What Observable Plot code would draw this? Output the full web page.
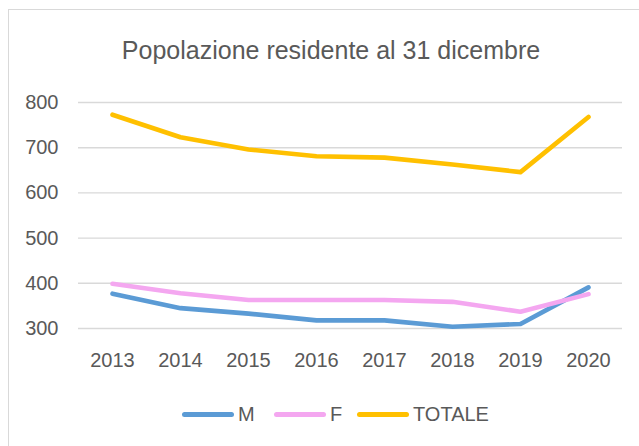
<!DOCTYPE html>
<html>
<head>
<meta charset="utf-8">
<script src="https://cdn.jsdelivr.net/npm/d3@7"></script>
<script src="https://cdn.jsdelivr.net/npm/@observablehq/plot@0.6"></script>
<style>
  html, body { margin: 0; padding: 0; background: #fff; }
  #wrap { position: relative; width: 639px; height: 446px; overflow: hidden; background: #fff;
          font-family: 'Liberation Sans Narrow', 'Liberation Sans', sans-serif; color: #595959; }
  #frame { position: absolute; left: 8px; top: 9px; width: 700px; height: 500px; border: 1.5px solid #D9D9D9; box-sizing: border-box; }
  #chart { position: absolute; left: 0; top: 0; }
  #title { position: absolute; left: 0; width: 662px; top: 35px; text-align: center; font-size: 25px; line-height: 30px; white-space: nowrap; }
  #legend { position: absolute; top: 401px; left: 0; width: 639px; height: 26px; font-size: 20px; line-height: 26px; white-space: nowrap; }
  .sw { display: inline-block; width: 52px; height: 5px; border-radius: 3px; margin-right: 4px; }
  .it { position: absolute; top: 0; display: flex; align-items: center; height: 26px; }
</style>
</head>
<body>
<div id="wrap">
  <div id="frame"></div>
  <div id="chart"></div>
  <div id="title">Popolazione residente al 31 dicembre</div>
  <div id="legend"></div>
</div>
<script>
const years = ["2013", "2014", "2015", "2016", "2017", "2018", "2019", "2020"];
const seriesM = [377, 345, 333, 318, 318, 304, 310, 391];
const seriesF = [399, 378, 363, 363, 363, 359, 337, 376];
const seriesTot = [773, 723, 696, 681, 678, 663, 646, 768];
const yTicks = [300, 400, 500, 600, 700, 800];
const seriesNames = ["M", "F", "TOTALE"];
const seriesColors = ["#5B9BD5", "#F4A7F0", "#FFC000"];

const allValues = [seriesM, seriesF, seriesTot];
const rows = [];
seriesNames.forEach((name, si) => {
  years.forEach((yr, i) => rows.push({ year: yr, value: allValues[si][i], series: name }));
});

const chart = Plot.plot({
  width: 639,
  height: 446,
  marginLeft: 78,
  marginRight: 17,
  marginTop: 102,
  marginBottom: 118,
  style: {
    fontFamily: "'Liberation Sans Narrow', 'Liberation Sans', sans-serif",
    fontSize: "20px",
    color: "#595959",
    background: "transparent"
  },
  x: { type: "point", domain: years, padding: 0.5, label: null },
  y: { domain: [300, 800], ticks: yTicks, label: null },
  color: { domain: seriesNames, range: seriesColors },
  marks: [
    Plot.ruleY(yTicks, { stroke: "#D9D9D9", strokeWidth: 1.4 }),
    Plot.axisY({ ticks: yTicks, tickSize: 0, tickPadding: 20, label: null, fill: "#595959", fontSize: 20 }),
    Plot.axisX({ tickSize: 0, tickPadding: 24, label: null, fill: "#595959", fontSize: 20 }),
    Plot.line(rows, {
      x: "year", y: "value", z: "series", stroke: "series",
      strokeWidth: 4.6, strokeLinecap: "round", strokeLinejoin: "round", curve: "linear"
    })
  ]
});
document.getElementById("chart").appendChild(chart);

const legend = document.getElementById("legend");
const lefts = [182, 274, 357];
seriesNames.forEach((name, i) => {
  const it = document.createElement("div");
  it.className = "it";
  it.style.left = lefts[i] + "px";
  const sw = document.createElement("span");
  sw.className = "sw";
  sw.style.background = seriesColors[i];
  const lb = document.createElement("span");
  lb.textContent = name;
  it.appendChild(sw);
  it.appendChild(lb);
  legend.appendChild(it);
});
</script>
</body>
</html>
